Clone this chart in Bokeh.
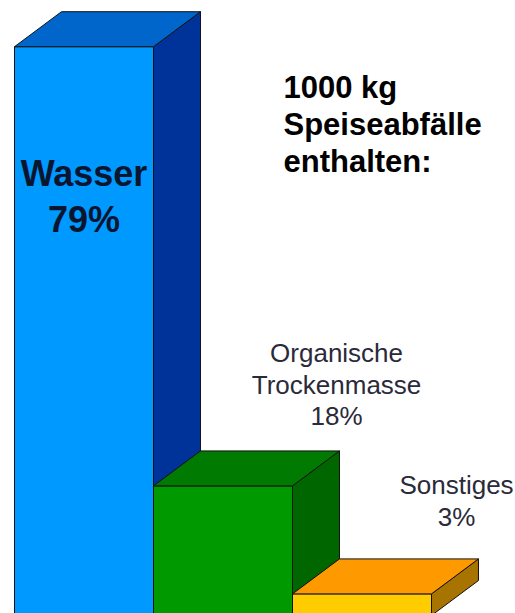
from bokeh.plotting import figure
from bokeh.models import Range1d, Label
from bokeh.core.properties import value
from bokeh.embed import file_html
from bokeh.resources import INLINE

# ---- data ----
categories = ["Wasser", "Organische Trockenmasse", "Sonstiges"]
label_lines = [["Wasser"], ["Organische", "Trockenmasse"], ["Sonstiges"]]
percent = [79, 18, 3]
title_lines = ["1000 kg", "Speiseabfälle", "enthalten:"]

# ---- style ----
front_colors = ["#0099FF", "#009900", "#FFCC00"]
top_colors = ["#0066CC", "#007A00", "#FF9900"]
side_colors = ["#003399", "#006600", "#A87400"]
depth_x = 0.338   # bar-width units
depth_y = 4.86    # percent units
W, H = 515, 613
shift = -9        # text baseline correction (px)

p = figure(width=W, height=H, output_backend="svg", toolbar_location=None,
           x_range=Range1d(-14 / 139, 501 / 139), y_range=Range1d(2 / 7.2, 615 / 7.2),
           min_border=0, min_border_left=0, min_border_right=0,
           min_border_top=0, min_border_bottom=0)
p.axis.visible = False
p.grid.visible = False
p.outline_line_color = None
p.background_fill_color = "white"
p.border_fill_color = "white"

xs, ys, fills = [], [], []
for i, v in enumerate(percent):
    x0, x1 = i, i + 1
    xs.append([x0, x1, x1, x0]); ys.append([0, 0, v, v]); fills.append(front_colors[i])
    xs.append([x1, x1 + depth_x, x1 + depth_x, x1])
    ys.append([0, depth_y, v + depth_y, v]); fills.append(side_colors[i])
    xs.append([x0, x1, x1 + depth_x, x0 + depth_x])
    ys.append([v, v, v + depth_y, v + depth_y]); fills.append(top_colors[i])

p.patches(xs, ys, fill_color=fills, line_color="#111111", line_width=1)

font = value("Liberation Sans")

i = 0
p.text(x=[i + 0.5], y=[percent[i] - 18.9], text=[label_lines[i][0]], text_font=font,
       text_font_size="36px", text_font_style="bold", text_color="#0a1530",
       text_align="center", text_baseline="alphabetic", y_offset=shift)
p.text(x=[i + 0.5], y=[percent[i] - 18.9], text=[f"{percent[i]}%"], text_font=font,
       text_font_size="36px", text_font_style="bold", text_color="#0a1530",
       text_align="center", text_baseline="alphabetic", y_offset=46 + shift)

label_dx = [0, 1.317, 1.18]
label_dy = [0, 8.4, 9.5]
for i in (1, 2):
    lines = label_lines[i] + [f"{percent[i]}%"]
    n = len(lines)
    for k, ln in enumerate(lines):
        p.text(x=[i + label_dx[i]], y=[percent[i] + label_dy[i]], text=[ln], text_font=font,
               text_font_size="26px", text_color="#2a2a3a", text_align="center",
               text_baseline="alphabetic", y_offset=-(n - 1 - k) * 31.5 + shift)

for k, ln in enumerate(title_lines):
    p.add_layout(Label(x=283, y=H - 96 - k * 37 - shift, x_units="screen", y_units="screen",
                       text=ln, text_font="Liberation Sans", text_font_size="31px",
                       text_font_style="bold", text_color="black",
                       text_baseline="alphabetic"))

open("out.html", "w").write(file_html(p, INLINE))
